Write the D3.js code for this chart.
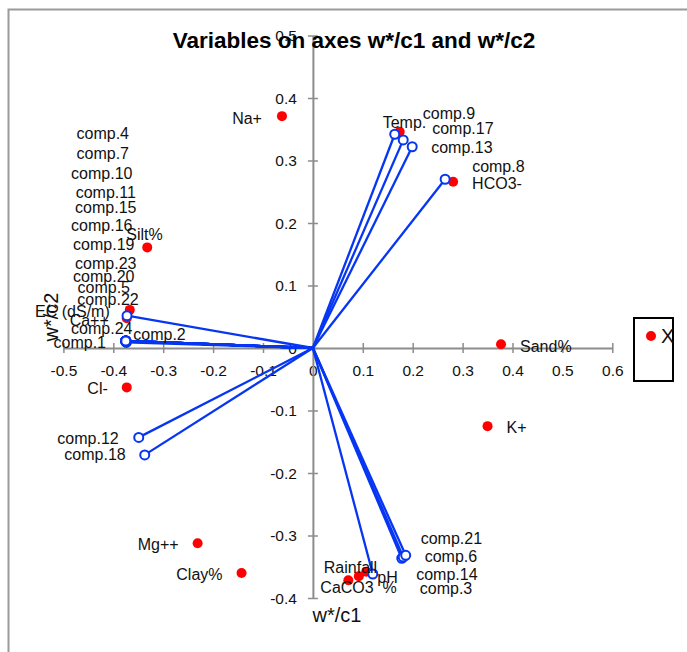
<!DOCTYPE html>
<html>
<head>
<meta charset="utf-8">
<script src="https://cdn.jsdelivr.net/npm/d3@7"></script>
<style>
  body { margin: 0; background: #fff; }
  text { font-family: "Liberation Sans", Arial, sans-serif; }
</style>
</head>
<body>
<svg id="chart"></svg>
<script>
// active variables (red dots)
const activeNames = ["Na+", "Temp.", "HCO3-", "Silt%", "EC (dS/m)", "Ca++", "Cl-", "Sand%", "K+", "Mg++", "Clay%", "CaCO3 \u00a0%", "Rainfall", "pH"]
const activeX = [-0.062, 0.174, 0.281, -0.332, -0.367, -0.373, -0.373, 0.377, 0.350, -0.231, -0.143, 0.071, 0.092, 0.107]
const activeY = [0.371, 0.346, 0.266, 0.161, 0.061, 0.0475, -0.063, 0.006, -0.125, -0.3125, -0.360, -0.3715, -0.365, -0.358]

// supplementary variables (blue vectors)
const suppNames = ["comp.1", "comp.2", "comp.3", "comp.4", "comp.5", "comp.6", "comp.7", "comp.8", "comp.9", "comp.10", "comp.11", "comp.12",
    "comp.13", "comp.14", "comp.15", "comp.16", "comp.17", "comp.18", "comp.19", "comp.20", "comp.21", "comp.22", "comp.23", "comp.24"]
const suppX = [-0.375, -0.374, 0.120, -0.375, -0.375, 0.178, -0.375, 0.265, 0.164, -0.375, -0.375, -0.349,
    0.199, 0.181, -0.375, -0.375, 0.181, -0.337, -0.375, -0.375, 0.186, -0.3725, -0.375, -0.375]
const suppY = [0.0112, 0.009, -0.3616, 0.0112, 0.0112, -0.3365, 0.0112, 0.270, 0.342, 0.0112, 0.0112, -0.143,
    0.322, -0.3344, 0.0112, 0.0112, 0.333, -0.171, 0.0112, 0.0112, -0.3317, 0.0517, 0.0112, 0.0112]

// tick labels
const xTickValues = [-0.5, -0.4, -0.3, -0.2, -0.1, 0, 0.1, 0.2, 0.3, 0.4, 0.5, 0.6]
const xTickLabels = ["-0.5", "-0.4", "-0.3", "-0.2", "-0.1", "0", "0.1", "0.2", "0.3", "0.4", "0.5", "0.6"]
const yTickValues = [0.5, 0.4, 0.3, 0.2, 0.1, 0, -0.1, -0.2, -0.3, -0.4]
const yTickLabels = ["0.5", "0.4", "0.3", "0.2", "0.1", "0", "-0.1", "-0.2", "-0.3", "-0.4"]

// label placement (anchor, dx, dy in px from the point)
const labelPos = {
    "Na+": ["end", -20, 2], "Temp.": ["start", -17, -9], "HCO3-": ["start", 19, 2], "Silt%": ["start", -21, -13],
    "EC (dS/m)": ["end", -20, 2], "Ca++": ["end", -18, 2], "Cl-": ["end", -19, 1], "Sand%": ["start", 19, 2],
    "K+": ["start", 19, 1], "Mg++": ["end", -19, 1], "Clay%": ["end", -19, 1], "CaCO3 \u00a0%": ["start", -28, 7],
    "Rainfall": ["start", -35, -9], "pH": ["start", 11, 6],
    "comp.1": ["middle", -46, 1], "comp.2": ["start", 7, -8], "comp.3": ["start", 47, 14], "comp.4": ["middle", -23, -208],
    "comp.5": ["middle", -22, -54], "comp.6": ["start", 23, -2], "comp.7": ["middle", -23, -188], "comp.8": ["start", 27, -13],
    "comp.9": ["start", 28, -21], "comp.10": ["middle", -24, -168], "comp.11": ["middle", -20, -149], "comp.12": ["end", -20, 1],
    "comp.13": ["start", 19, 1], "comp.14": ["start", 13, 17], "comp.15": ["middle", -20, -134], "comp.16": ["middle", -24, -116],
    "comp.17": ["start", 29, -11], "comp.18": ["end", -19, 0], "comp.19": ["middle", -22, -97], "comp.20": ["middle", -22, -65],
    "comp.21": ["start", 15, -17], "comp.22": ["middle", -19, -16], "comp.23": ["middle", -20, -78], "comp.24": ["middle", -24, -13]
}

const width = 687
const height = 652
const blue = "#0636f2"
const gray = "#8c8c8c"

const svg = d3.select("#chart").attr("width", width).attr("height", height)

const x = d3.scaleLinear().domain([-0.5, 0.6]).range([63.4, 612.3])
const y = d3.scaleLinear().domain([-0.4, 0.5]).range([598, 35.5])

// outer frame (left and top edges visible)
svg.append("path")
    .attr("d", `M8.5,${height}V9.5H${width}`)
    .attr("fill", "none").attr("stroke", "#9a9a9a").attr("stroke-width", 2)

// axes through the origin
const xAxis = d3.axisBottom(x).tickValues(xTickValues)
    .tickFormat((d, i) => xTickLabels[i]).tickSizeOuter(0)
const gx = svg.append("g").attr("transform", `translate(0,${y(0)})`).call(xAxis)
gx.select(".domain").attr("stroke", gray).attr("stroke-width", 2)
gx.selectAll(".tick line").attr("stroke", gray).attr("stroke-width", 1.5).attr("y1", -5).attr("y2", 5)
gx.selectAll(".tick text").attr("y", 23).attr("dy", "0.35em")
    .attr("font-size", 15.5).attr("fill", "#111").attr("font-family", "Liberation Sans, Arial, sans-serif")

const yAxis = d3.axisLeft(y).tickValues(yTickValues)
    .tickFormat((d, i) => yTickLabels[i]).tickSizeOuter(0)
const gy = svg.append("g").attr("transform", `translate(${x(0)},0)`).call(yAxis)
gy.select(".domain").attr("stroke", gray).attr("stroke-width", 2)
gy.selectAll(".tick line").attr("stroke", gray).attr("stroke-width", 1.5).attr("x1", 5).attr("x2", -5)
gy.selectAll(".tick text").attr("x", -16).attr("dy", "0.35em")
    .attr("font-size", 15.5).attr("fill", "#111").attr("font-family", "Liberation Sans, Arial, sans-serif")

// title
svg.append("text")
    .attr("x", 354).attr("y", 48)
    .attr("text-anchor", "middle")
    .attr("font-size", 22.5).attr("font-weight", "bold").attr("fill", "#000")
    .text("Variables on axes w*/c1 and w*/c2")

// axis titles
svg.append("text")
    .attr("x", 337).attr("y", 622)
    .attr("text-anchor", "middle").attr("font-size", 20).attr("fill", "#111")
    .text("w*/c1")
svg.append("text")
    .attr("transform", `translate(58,317) rotate(-90)`)
    .attr("text-anchor", "middle").attr("font-size", 20).attr("fill", "#111")
    .text("w*/c2")

const active = activeNames.map((n, i) => ({ name: n, x: activeX[i], y: activeY[i] }))
const supp = suppNames.map((n, i) => ({ name: n, x: suppX[i], y: suppY[i] }))

// active points
svg.append("g").selectAll("circle").data(active).join("circle")
    .attr("cx", d => x(d.x)).attr("cy", d => y(d.y)).attr("r", 5)
    .attr("fill", "#ff0000")

// supplementary vectors
const gs = svg.append("g")
gs.selectAll("line").data(supp).join("line")
    .attr("x1", x(0)).attr("y1", y(0))
    .attr("x2", d => x(d.x)).attr("y2", d => y(d.y))
    .attr("stroke", blue).attr("stroke-width", 2.3)
gs.selectAll("circle").data(supp).join("circle")
    .attr("cx", d => x(d.x)).attr("cy", d => y(d.y)).attr("r", 4.5)
    .attr("fill", "#fff").attr("stroke", blue).attr("stroke-width", 2)

// labels
svg.append("g").selectAll("text").data(active.concat(supp)).join("text")
    .attr("x", d => x(d.x) + labelPos[d.name][1])
    .attr("y", d => y(d.y) + labelPos[d.name][2])
    .attr("dy", "0.35em")
    .attr("text-anchor", d => labelPos[d.name][0])
    .attr("font-size", 16).attr("fill", "#111")
    .text(d => d.name)

// legend
const lg = svg.append("g")
lg.append("rect").attr("x", 634).attr("y", 318).attr("width", 39).attr("height", 63)
    .attr("fill", "#fff").attr("stroke", "#000").attr("stroke-width", 2)
lg.append("circle").attr("cx", 651).attr("cy", 336).attr("r", 5).attr("fill", "#ff0000")
lg.append("text").attr("x", 661).attr("y", 336).attr("dy", "0.35em")
    .attr("font-size", 20).attr("fill", "#111").text("X")
</script>
</body>
</html>
